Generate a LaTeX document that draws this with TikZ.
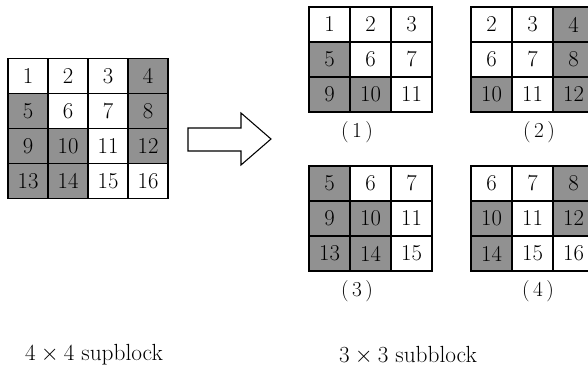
\documentclass[tikz,border=0pt]{standalone}
\usepackage{amsmath}
\usepackage{tikz}
\usepackage{xcolor}

% gray (100) or white (0) for the cell numbered 1..16
\newcommand{\cellshades}{{0,0,0,100,100,0,0,100,100,100,0,100,100,100,0,0}}

\begin{document}
\begin{tikzpicture}[x=0.75pt,y=-0.75pt,
    cell/.style={draw=black, line width=0.9pt, minimum width=#1, minimum height=26.25pt,
      inner sep=0pt, font=\fontsize{17}{19}\selectfont},
    sublabel/.style={font=\fontsize{16}{18}\selectfont},
    caption/.style={font=\fontsize{17.5}{20}\selectfont}]
    \definecolor{cellgray}{RGB}{145,145,145}

    \clip (0,0) rectangle (588,367);

    % 4x4 block on the left
    \foreach \r in {0,1,2,3} {
      \foreach \c in {0,1,2,3} {
        \pgfmathtruncatemacro\n{1+4*\r+\c}
        \pgfmathtruncatemacro\g{\cellshades[\n-1]}
        \node[cell=30pt, fill=cellgray!\g!white] (b-\n) at (28+40*\c, 76+35*\r) {\n};
      }
    }

    % hollow arrow
    \draw[line width=0.8pt] (188,128) -- (241,128) -- (241,113) -- (271,139)
      -- (241,165) -- (241,151) -- (188,151) -- cycle;

    % the four 3x3 subblocks
    \foreach \bx/\by/\first/\lab/\dx in {309/7/1/1/48, 471/7/2/2/68, 309/166/5/3/48, 471/166/6/4/67} {
      \foreach \r in {0,1,2} {
        \foreach \c in {0,1,2} {
          \pgfmathtruncatemacro\n{\first+4*\r+\c}
          \pgfmathtruncatemacro\g{\cellshades[\n-1]}
          \node[cell=30.75pt, fill=cellgray!\g!white] (s\lab-\n) at (\bx+20.5+41*\c, \by+17.5+35*\r) {\n};
        }
      }
      \node[sublabel] (lab\lab) at (\bx+\dx, \by+125) {(\,\lab\,)};
    }

    \node[caption] (supcap) at (94,355) {$4\times 4$ supblock};
    \node[caption] (subcap) at (408,355) {$3\times 3$ subblock};
  \end{tikzpicture}
\end{document}
